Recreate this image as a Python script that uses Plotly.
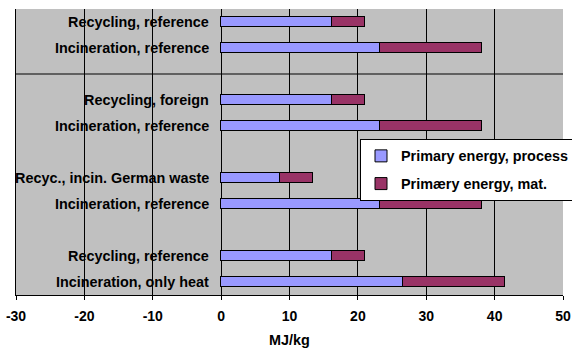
import plotly.graph_objects as go

# Scenario labels, top to bottom, in pairs
labels = [
    "Recycling, reference",
    "Incineration, reference",
    "Recycling, foreign",
    "Incineration, reference",
    "Recyc., incin. German waste",
    "Incineration, reference",
    "Recycling, reference",
    "Incineration, only heat",
]
# Primary energy from the process (MJ/kg)
process = [16.2, 23.3, 16.2, 23.3, 8.6, 23.3, 16.2, 26.6]
# Primary energy bound in the material (MJ/kg)
material = [4.9, 14.9, 4.9, 14.9, 4.8, 14.9, 4.9, 14.9]

series_names = ["Primary energy, process", "Primæry energy, mat."]
series_colors = ["#9999FF", "#993366"]

x_ticks = [-30, -20, -10, 0, 10, 20, 30, 40, 50]

# Each pair of scenarios is followed by an empty row
pos = [i + i // 2 for i in range(len(labels))]
n_rows = pos[-1] + 1

FONT = "Arial, Liberation Sans, sans-serif"
FS = 14.4

ML, MR, MT, MB = 16, 9, 9, 57
PW = 572 - ML - MR
PH = 352 - MT - MB

fig = go.Figure()
for k, (name, vals, col) in enumerate(zip(series_names, [process, material], series_colors)):
    fig.add_trace(go.Bar(
        y=pos, x=vals, orientation="h", name=name,
        marker=dict(color=col, line=dict(color="black", width=1)),
        width=0.42, legendgroup=f"g{k}",
    ))

# Scenario labels, right-aligned just left of zero
for p, lab in zip(pos, labels):
    fig.add_annotation(
        x=0, y=p, xref="x", yref="y", text=f"<b>{lab}</b>",
        xanchor="right", yanchor="middle", xshift=-10, showarrow=False,
        font=dict(family=FONT, size=FS, color="black"),
    )

# Divider below the first pair
fig.add_shape(type="line", xref="paper", yref="y", x0=0, x1=1,
              y0=pos[1] + 1, y1=pos[1] + 1,
              line=dict(color="black", width=1))

fig.update_layout(
    width=572, height=352,
    margin=dict(l=ML, r=MR, t=MT, b=MB, autoexpand=False),
    paper_bgcolor="white", plot_bgcolor="#C0C0C0",
    barmode="stack", bargap=0,
    font=dict(family=FONT, size=FS, color="black"),
    showlegend=True,
    legend=dict(
        x=(360 - ML) / PW, y=(352 - MB - 139) / PH, xanchor="left", yanchor="top",
        bgcolor="white", bordercolor="black", borderwidth=1,
        font=dict(family=FONT, size=FS, color="black", weight="bold"),
        traceorder="grouped", tracegroupgap=6, itemwidth=30,
    ),
    xaxis=dict(
        range=[-30, 50], tickvals=x_ticks, ticktext=[f"<b>{v}</b>" for v in x_ticks],
        showgrid=True, gridcolor="black", gridwidth=1, zeroline=False,
        showline=True, linecolor="black", linewidth=1,
        ticks="outside", ticklen=4, tickcolor="black",
        tickfont=dict(family=FONT, size=14), automargin=False,
        ticklabelstandoff=4, ticklabeloverflow="allow",
        title=dict(text="<b>MJ/kg</b>", font=dict(family=FONT, size=FS), standoff=12),
    ),
    yaxis=dict(
        range=[n_rows - 0.5, -0.5], showticklabels=False, showgrid=False,
        zeroline=False, showline=True, linecolor="black", linewidth=1, ticks="",
        automargin=False,
    ),
)

fig.write_html("out.html")
